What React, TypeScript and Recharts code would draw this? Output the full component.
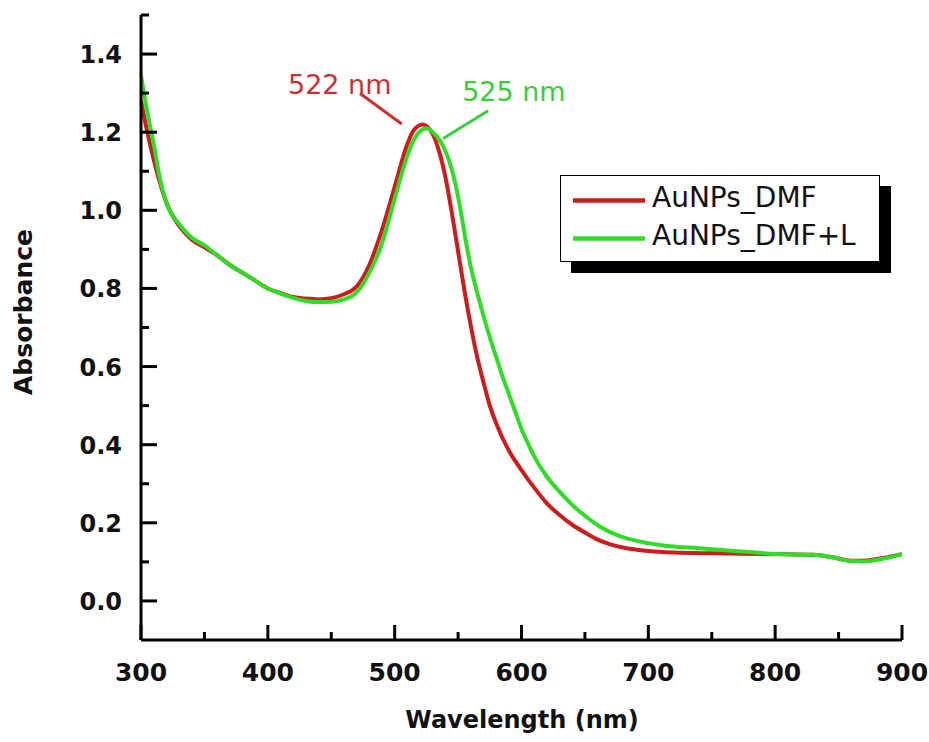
import React from "react";
import {
  LineChart,
  Line,
  XAxis,
  YAxis,
  Legend,
  ReferenceLine,
  ReferenceDot,
} from "recharts";

// Wavelength (nm) / absorbance readings for each sample
const DMF_WL = [
  300, 305, 310, 315, 320, 330, 340, 350, 360, 370, 380, 390, 400, 410, 420, 430, 440, 450, 460, 470,
  480, 490, 500, 510, 515, 522, 530, 536, 540, 545, 550, 555, 560, 565, 570, 575, 580, 590, 600, 610,
  620, 630, 640, 650, 660, 670, 680, 700, 720, 750, 800, 830, 845, 860, 870, 885, 900,
];
const DMF_ABS = [
  1.28, 1.2, 1.13, 1.07, 1.02, 0.96, 0.925, 0.905, 0.885, 0.86, 0.84, 0.82, 0.8, 0.788, 0.778, 0.774,
  0.772, 0.775, 0.785, 0.805, 0.86, 0.95, 1.06, 1.17, 1.205, 1.22, 1.195, 1.14, 1.085, 0.995, 0.895, 0.795,
  0.705, 0.625, 0.56, 0.5, 0.455, 0.385, 0.335, 0.29, 0.25, 0.22, 0.195, 0.175, 0.157, 0.145, 0.137, 0.128,
  0.124, 0.122, 0.12, 0.118, 0.112, 0.103, 0.103, 0.11, 0.12,
];

const DMF_L_WL = [
  300, 305, 310, 315, 320, 330, 340, 350, 360, 370, 380, 390, 400, 410, 420, 430, 440, 450, 460, 470,
  480, 490, 500, 510, 515, 525, 530, 535, 540, 545, 550, 557, 560, 565, 570, 575, 580, 585, 590, 595,
  600, 607, 610, 620, 630, 644, 650, 662, 678, 700, 717, 740, 760, 780, 800, 830, 845, 860, 870, 885, 900,
];
const DMF_L_ABS = [
  1.345, 1.25, 1.17, 1.08, 1.02, 0.965, 0.93, 0.91, 0.885, 0.86, 0.84, 0.82, 0.8, 0.787, 0.776, 0.768,
  0.765, 0.766, 0.772, 0.79, 0.84, 0.915, 1.03, 1.14, 1.18, 1.21, 1.2, 1.182, 1.152, 1.105, 1.035, 0.905,
  0.855, 0.79, 0.73, 0.675, 0.625, 0.575, 0.53, 0.485, 0.44, 0.39, 0.37, 0.318, 0.28, 0.234, 0.218, 0.19,
  0.165, 0.148, 0.14, 0.135, 0.13, 0.125, 0.12, 0.118, 0.112, 0.102, 0.101, 0.108, 0.12,
];

const X_TICKS = [300, 350, 400, 450, 500, 550, 600, 650, 700, 750, 800, 850, 900];
const Y_TICKS = [0, 0.1, 0.2, 0.3, 0.4, 0.5, 0.6, 0.7, 0.8, 0.9, 1.0, 1.1, 1.2, 1.3, 1.4, 1.5];

// peak annotations: text anchor and leader line ends, in data units
const PEAK_LABELS = ["522 nm", "525 nm"];
const PEAK_TEXT_POS = [
  { x: 415.9, y: 1.299 },
  { x: 553.2, y: 1.281 },
];
const PEAK_LEADERS = [
  [
    { x: 472.7, y: 1.299 },
    { x: 505.6, y: 1.221 },
  ],
  [
    { x: 573.7, y: 1.255 },
    { x: 538.2, y: 1.184 },
  ],
];

const RED = "#cc1c1c";
const GREEN = "#2fdc26";
const RED_TEXT = "#c83232";
const GREEN_TEXT = "#3ccc3c";
const FONT = "'DejaVu Sans', sans-serif";

const zip = (wl: number[], abs: number[]) => wl.map((w, i) => ({ wl: w, a: abs[i] }));
const dmf = zip(DMF_WL, DMF_ABS);
const dmfL = zip(DMF_L_WL, DMF_L_ABS);

function XTick({ x, y, payload }: any) {
  const v = payload.value as number;
  const major = v % 100 === 0;
  return (
    <g>
      <line x1={x} x2={x} y1={y} y2={y - (major ? 15 : 8)} stroke="#000" strokeWidth={3} />
      {major && (
        <text x={x} y={y + 41} textAnchor="middle" fontFamily={FONT} fontWeight="bold" fontSize={25} fill="#111">
          {v}
        </text>
      )}
    </g>
  );
}

function YTick({ x, y, payload }: any) {
  const v = payload.value as number;
  const major = Math.round(v * 10) % 2 === 0 && v < 1.45;
  return (
    <g>
      <line x1={x} x2={x + (major ? 16 : 8)} y1={y} y2={y} stroke="#000" strokeWidth={3} />
      {major && (
        <text x={x - 19} y={y + 9} textAnchor="end" fontFamily={FONT} fontWeight="bold" fontSize={24} fill="#111">
          {v.toFixed(1)}
        </text>
      )}
    </g>
  );
}

function LegendBox({ payload }: any) {
  const items = (payload || []) as any[];
  return (
    <div
      style={{
        width: 320,
        height: 87,
        boxSizing: "border-box",
        border: "1.5px solid #000",
        background: "#fff",
        boxShadow: "11px 11px 0 #000",
      }}
    >
      <svg width={317} height={84} style={{ display: "block" }}>
        {items.map((it, i) => (
          <g key={it.value}>
            <line x1={12} x2={84} y1={24.5 + i * 38} y2={24.5 + i * 38} stroke={it.color} strokeWidth={4.5} />
            <text x={91} y={31 + i * 38} fontFamily={FONT} fontSize={28} fill="#111">
              {it.value}
            </text>
          </g>
        ))}
      </svg>
    </div>
  );
}

export default function App() {
  return (
    <div style={{ position: "absolute", left: 0, top: 0, width: 929, height: 742, background: "#fff" }}>
      <LineChart width={929} height={742} margin={{ top: 15, right: 27, bottom: 0, left: 0 }}>
        <XAxis
          type="number"
          dataKey="wl"
          domain={[300, 900]}
          ticks={X_TICKS}
          interval={0}
          height={102}
          tickSize={0}
          tickMargin={0}
          tickLine={false}
          tick={<XTick />}
          axisLine={{ stroke: "#000", strokeWidth: 3 }}
          allowDataOverflow
          label={() => (
            <text x={522} y={728} textAnchor="middle" fontFamily={FONT} fontWeight="bold" fontSize={24} fill="#111">
              Wavelength (nm)
            </text>
          )}
        />
        <YAxis
          type="number"
          domain={[-0.1, 1.5]}
          ticks={Y_TICKS}
          interval={0}
          width={141}
          tickSize={0}
          tickMargin={0}
          tickLine={false}
          tick={<YTick />}
          axisLine={{ stroke: "#000", strokeWidth: 3 }}
          allowDataOverflow
          label={() => (
            <text
              x={32}
              y={312}
              transform="rotate(-90 32 312)"
              textAnchor="middle"
              fontFamily={FONT}
              fontWeight="bold"
              fontSize={25}
              fill="#111"
            >
              Absorbance
            </text>
          )}
        />
        <Line
          data={dmf}
          dataKey="a"
          name="AuNPs_DMF"
          type="monotone"
          stroke={RED}
          strokeWidth={4}
          dot={false}
          isAnimationActive={false}
        />
        <Line
          data={dmfL}
          dataKey="a"
          name="AuNPs_DMF+L"
          type="monotone"
          stroke={GREEN}
          strokeWidth={4}
          dot={false}
          isAnimationActive={false}
        />
        {PEAK_LEADERS.map((seg, i) => (
          <ReferenceLine
            key={"lead" + i}
            segment={seg}
            stroke={i === 0 ? RED_TEXT : GREEN_TEXT}
            strokeWidth={3}
          />
        ))}
        {PEAK_TEXT_POS.map((p, i) => (
          <ReferenceDot
            key={"txt" + i}
            x={p.x}
            y={p.y}
            r={0}
            shape={(props: any) => (
              <text
                x={props.cx}
                y={props.cy}
                fontFamily={FONT}
                fontSize={27}
                fill={i === 0 ? RED_TEXT : GREEN_TEXT}
              >
                {PEAK_LABELS[i]}
              </text>
            )}
          />
        ))}
        <Legend
          layout="vertical"
          verticalAlign="middle"
          align="center"
          content={<LegendBox />}
          wrapperStyle={{ left: 560, top: 175, width: 320, height: 87 }}
        />
      </LineChart>
    </div>
  );
}
